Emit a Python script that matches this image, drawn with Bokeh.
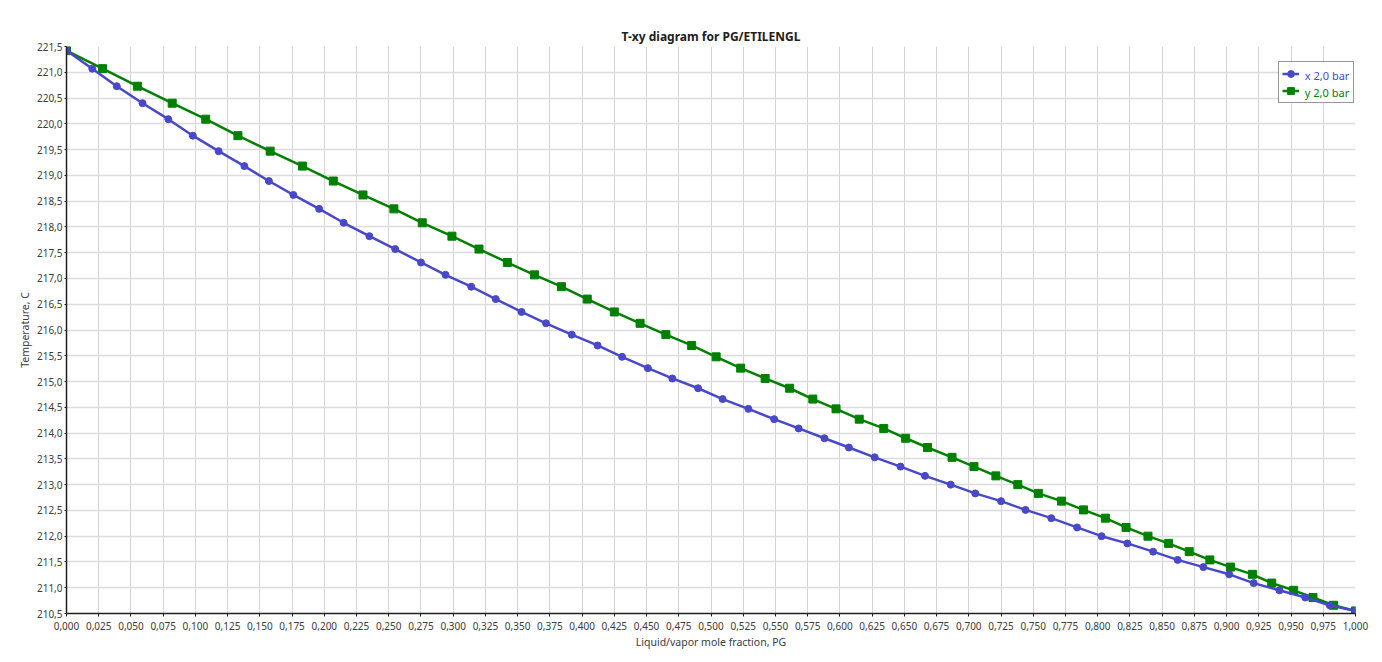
from bokeh.plotting import figure
from bokeh.models import (Range1d, FixedTicker, CustomJSTickFormatter, Legend,
                          LegendItem)
from bokeh.core.properties import value
from bokeh.embed import file_html
from bokeh.resources import INLINE

# ---- data ----
T = [221.42, 221.07, 220.73, 220.40, 220.09, 219.77, 219.47, 219.18, 218.89, 218.62,
     218.35, 218.08, 217.82, 217.57, 217.31, 217.07, 216.84, 216.60, 216.35, 216.13,
     215.91, 215.70, 215.48, 215.26, 215.06, 214.87, 214.66, 214.47, 214.27, 214.09,
     213.90, 213.72, 213.53, 213.35, 213.17, 213.00, 212.83, 212.68, 212.51, 212.35,
     212.17, 212.00, 211.86, 211.70, 211.54, 211.40, 211.26, 211.09, 210.95, 210.81,
     210.66, 210.55]
x_liq = [0.000, 0.020, 0.039, 0.059, 0.079, 0.098, 0.118, 0.138, 0.157, 0.176,
         0.196, 0.215, 0.235, 0.255, 0.275, 0.294, 0.314, 0.333, 0.353, 0.372,
         0.392, 0.412, 0.431, 0.451, 0.470, 0.490, 0.509, 0.529, 0.549, 0.568,
         0.588, 0.607, 0.627, 0.647, 0.666, 0.686, 0.705, 0.725, 0.744, 0.764,
         0.784, 0.803, 0.823, 0.843, 0.862, 0.882, 0.902, 0.921, 0.941, 0.961,
         0.980, 1.000]
y_vap = [0.000, 0.028, 0.055, 0.082, 0.108, 0.133, 0.158, 0.183, 0.207, 0.230,
         0.254, 0.276, 0.299, 0.320, 0.342, 0.363, 0.384, 0.404, 0.425, 0.445,
         0.465, 0.485, 0.504, 0.523, 0.542, 0.561, 0.579, 0.597, 0.615, 0.634,
         0.651, 0.668, 0.687, 0.704, 0.721, 0.738, 0.754, 0.772, 0.789, 0.806,
         0.822, 0.839, 0.855, 0.871, 0.887, 0.903, 0.920, 0.935, 0.952, 0.967,
         0.983, 1.000]
series_labels = ["x  2,0 bar", "y  2,0 bar"]
x_ticks = [round(i * 0.025, 3) for i in range(41)]
y_ticks = [210.5 + 0.5 * i for i in range(23)]

BLUE = "#4848C8"
GREEN = "#008000"
TXT = "#3c3c3c"
FONT = "Noto Sans"

p = figure(width=1374, height=654, output_backend="svg", toolbar_location=None,
           x_range=Range1d(0, 1), y_range=Range1d(210.5, 221.5),
           min_border_left=66, min_border_right=19, min_border_top=46,
           min_border_bottom=41, title="T-xy diagram for PG/ETILENGL")
p.outline_line_color = None
p.background_fill_color = "white"
p.border_fill_color = "white"

p.title.align = "center"
p.title.text_font = FONT
p.title.text_font_size = "12px"
p.title.text_font_style = "bold"
p.title.text_color = "#202020"
p.title.standoff = 4

for ax in (p.xaxis[0], p.yaxis[0]):
    ax.major_label_text_font = FONT
    ax.major_label_text_font_size = "10px"
    ax.major_label_text_color = TXT
    ax.axis_label_text_font = FONT
    ax.axis_label_text_font_size = "10.5px"
    ax.axis_label_text_font_style = "normal"
    ax.axis_label_text_color = TXT
    ax.axis_line_color = "#202020"
    ax.axis_line_width = 1.5
    ax.major_tick_line_color = "#202020"
    ax.major_tick_in = 0
    ax.minor_tick_line_color = None

p.xaxis.ticker = FixedTicker(ticks=x_ticks)
p.yaxis.ticker = FixedTicker(ticks=y_ticks)
p.xaxis.formatter = CustomJSTickFormatter(code="return tick.toFixed(3).replace('.', ',');")
p.yaxis.formatter = CustomJSTickFormatter(code="return tick.toFixed(1).replace('.', ',');")
p.xaxis.major_tick_out = 3
p.yaxis.major_tick_out = 2
p.xaxis.major_label_standoff = 5
p.yaxis.major_label_standoff = 2
p.xaxis.axis_label = "Liquid/vapor mole fraction, PG"
p.yaxis.axis_label = "Temperature, C"
p.xaxis.axis_label_standoff = 2
p.yaxis.axis_label_standoff = 2

p.xgrid.ticker = FixedTicker(ticks=x_ticks)
p.ygrid.ticker = FixedTicker(ticks=y_ticks)
p.xgrid.grid_line_color = "#d4d4d4"
p.ygrid.grid_line_color = "#dcdcdc"
p.xgrid.grid_line_width = 1
p.ygrid.grid_line_width = 1.5

# white background behind the legend box (covers the grid)
p.quad(left=[0.9405], right=[0.9995], top=[221.20], bottom=[220.40],
       fill_color="white", line_color=None)

r_y = p.line(y_vap, T, line_color=GREEN, line_width=2.5)
s_y = p.scatter(y_vap, T, marker="square", size=8, fill_color=GREEN, line_color=GREEN)
r_x = p.line(x_liq, T, line_color=BLUE, line_width=2.5)
s_x = p.scatter(x_liq, T, marker="circle", size=7, fill_color=BLUE, line_color=BLUE)

legend = Legend(items=[LegendItem(label=series_labels[0], renderers=[r_x, s_x]),
                       LegendItem(label=series_labels[1], renderers=[r_y, s_y])],
                location=(1212, 510), margin=0, padding=3, spacing=0,
                glyph_width=17, glyph_height=17, label_height=17,
                label_standoff=4, label_text_font=FONT,
                label_text_font_size="11px", label_text_alpha=0,
                border_line_color="#303030", border_line_width=1,
                background_fill_alpha=0)
p.add_layout(legend)

# coloured legend texts, drawn in data space over the legend rows
p.text(x=[0.9607, 0.9607], y=[220.945, 220.608], text=series_labels,
       text_color=[BLUE, GREEN], text_font=value(FONT), text_font_size="11px",
       text_baseline="middle", text_align="left")

open("out.html", "w").write(file_html(p, INLINE))
